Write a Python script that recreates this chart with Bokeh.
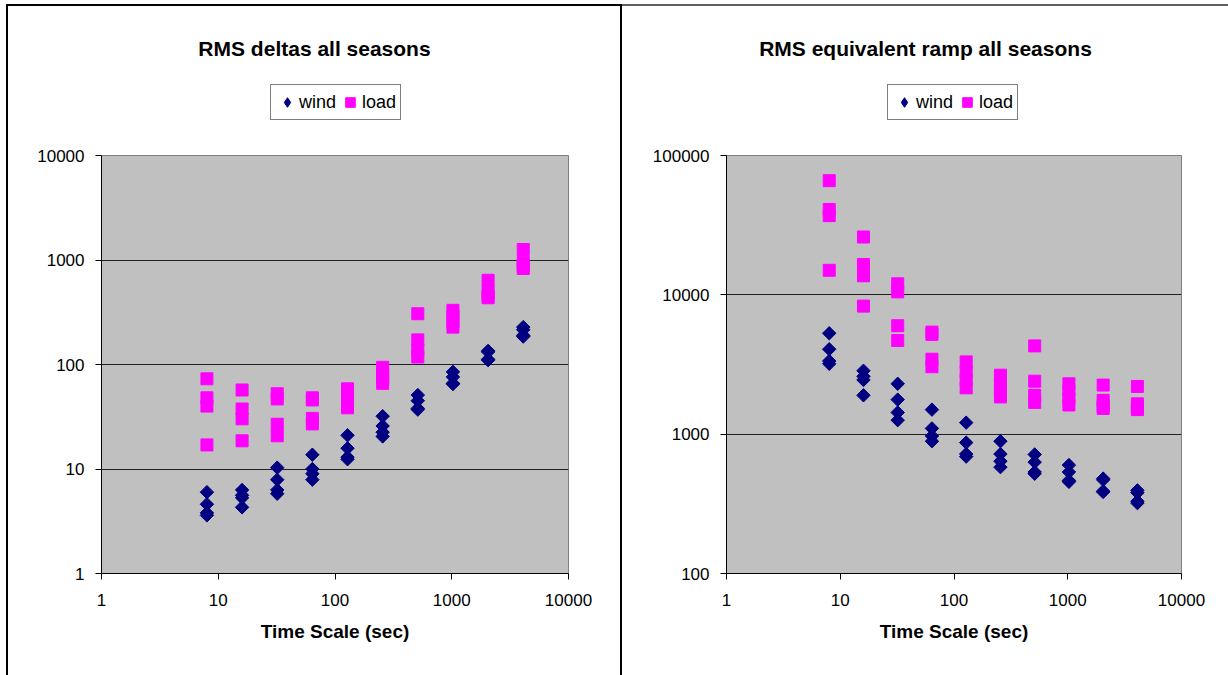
import numpy as np
from bokeh.plotting import figure
from bokeh.layouts import row, column
from bokeh.models import Range1d, FixedTicker, Legend, LegendItem, Label
from bokeh.embed import file_html
from bokeh.resources import INLINE

# ---------------- data ----------------
time_scales = [8, 16, 32, 64, 128, 256, 512, 1024, 2048, 4096]

deltas_wind = [
    [6.0, 4.6, 3.8, 3.6],
    [6.3, 5.6, 5.3, 4.3],
    [10.3, 7.9, 6.3, 5.8],
    [13.7, 10.0, 9.0, 7.9],
    [21.0, 15.8, 13.0, 12.4],
    [32.0, 25.8, 22.5, 20.5],
    [51.0, 45.0, 38.0, 37.0],
    [85.0, 76.0, 66.0, 65.0],
    [135.0, 132.0, 112.0, 110.0],
    [228.0, 215.0, 190.0, 185.0],
]
deltas_load = [
    [73.0, 48.0, 40.0, 17.0],
    [57.0, 37.5, 30.2, 18.6],
    [52.5, 46.8, 26.8, 20.8],
    [48.0, 45.8, 30.5, 27.0],
    [58.5, 49.8, 43.6, 38.5],
    [94.0, 82.0, 74.0, 66.0],
    [306.0, 172.0, 138.0, 118.0],
    [330.0, 290.0, 255.0, 228.0],
    [640.0, 500.0, 455.0, 435.0],
    [1260.0, 945.0, 880.0, 830.0],
]
ramp_wind = [
    [5300, 4070, 3350, 3200],
    [2850, 2600, 2450, 1900],
    [2300, 1770, 1430, 1260],
    [1500, 1100, 970, 890],
    [1210, 870, 720, 690],
    [890, 720, 640, 580],
    [715, 630, 535, 520],
    [600, 535, 465, 455],
    [480, 470, 390, 385],
    [395, 380, 330, 320],
]
ramp_load = [
    [66000, 41000, 37000, 15000],
    [26000, 16500, 13700, 8300],
    [12000, 10500, 6000, 4700],
    [5400, 5200, 3450, 3050],
    [3300, 2800, 2450, 2150],
    [2650, 2300, 2050, 1850],
    [4300, 2400, 1900, 1690],
    [2300, 2050, 1800, 1620],
    [2250, 1750, 1600, 1530],
    [2200, 1650, 1550, 1500],
]

x_ticks = [1, 10, 100, 1000, 10000]
x_tick_labels = ["1", "10", "100", "1000", "10000"]
y_ticks_left = [1, 10, 100, 1000, 10000]
y_tick_labels_left = ["1", "10", "100", "1000", "10000"]
y_ticks_right = [100, 1000, 10000, 100000]
y_tick_labels_right = ["100", "1000", "10000", "100000"]

titles = ["RMS deltas all seasons", "RMS equivalent ramp all seasons"]
x_label = "Time Scale (sec)"
series_names = ["wind", "load"]

FONT = "Liberation Sans"
WIND_C = "#000080"
LOAD_C = "#FF00FF"
WIND_KW = dict(marker="square", angle=np.pi / 4, size=9.5,
               fill_color=WIND_C, line_color=WIND_C)
LOAD_KW = dict(marker="square", size=12, fill_color=LOAD_C, line_color=LOAD_C)
# legend keys (legend glyphs are drawn unrotated, so use a diamond marker)
WIND_KEY = dict(marker="diamond", fill_color=WIND_C, line_color=WIND_C)
LOAD_KEY = dict(marker="square", fill_color=LOAD_C, line_color=LOAD_C)

HEADER_H = 137
CHART_H = 532
TOP_PAD = 12


def flatten(groups):
    xs, ys = [], []
    for t, vals in zip(time_scales, groups):
        for v in vals:
            xs.append(t)
            ys.append(v)
    return xs, ys


def make_header(width, frame_w, title, title_x, legend_x, wind, load):
    # header frame is aligned with the chart frame below it by the column
    h = figure(width=width, height=HEADER_H, x_range=Range1d(0, frame_w),
               y_range=Range1d(0, HEADER_H), x_axis_location=None,
               y_axis_location=None, output_backend="svg",
               toolbar_location=None, min_border=0)
    h.grid.visible = False
    h.outline_line_color = None
    h.background_fill_color = "white"
    h.border_fill_color = "white"
    h.add_layout(Label(x=title_x, y=HEADER_H + 6 - 48, text=title,
                       text_align="center", text_baseline="middle",
                       text_font=FONT, text_font_size="21px",
                       text_font_style="bold", text_color="black"))
    wx, wy = flatten(wind)
    lx, ly = flatten(load)
    # legend proxies: same data, not drawn in the header
    rw = h.scatter(wx, wy, visible=False, **WIND_KEY)
    rl = h.scatter(lx, ly, visible=False, **LOAD_KEY)
    legend = Legend(items=[LegendItem(label=series_names[0], renderers=[rw]),
                           LegendItem(label=series_names[1], renderers=[rl])],
                    location=(legend_x, HEADER_H + 6 - 120),
                    orientation="horizontal", margin=0, padding=4, spacing=2,
                    label_standoff=0, glyph_width=24, glyph_height=26,
                    label_height=24, label_text_font=FONT,
                    label_text_font_size="18px", label_text_color="black",
                    border_line_color="black", border_line_width=1,
                    background_fill_color="white", background_fill_alpha=1)
    h.add_layout(legend, "center")
    return h


def make_chart(width, fl, fr, yrange, yticks, ylabels, wind, load):
    p = figure(width=width, height=CHART_H, x_axis_type="log", y_axis_type="log",
               x_range=Range1d(1, 10000), y_range=Range1d(*yrange),
               output_backend="svg", toolbar_location=None,
               min_border_left=fl, min_border_right=fr,
               min_border_top=TOP_PAD, min_border_bottom=102)
    p.background_fill_color = "#C0C0C0"
    p.border_fill_color = "white"
    p.outline_line_color = "#808080"
    p.outline_line_width = 1

    p.xaxis.ticker = FixedTicker(ticks=x_ticks, minor_ticks=[])
    p.yaxis.ticker = FixedTicker(ticks=yticks, minor_ticks=[])
    p.xaxis.major_label_overrides = {t: l for t, l in zip(x_ticks, x_tick_labels)}
    p.yaxis.major_label_overrides = {t: l for t, l in zip(yticks, ylabels)}
    for ax in (p.xaxis[0], p.yaxis[0]):
        ax.axis_line_color = "black"
        ax.axis_line_width = 1
        ax.major_tick_line_color = "black"
        ax.major_tick_out = 6
        ax.major_tick_in = 0
        ax.minor_tick_out = 0
        ax.minor_tick_in = 0
        ax.major_label_text_font = FONT
        ax.major_label_text_font_size = "17px"
        ax.major_label_text_color = "black"
    p.xaxis.major_label_standoff = 14
    p.yaxis.major_label_standoff = 11
    p.xaxis.axis_label = x_label
    p.xaxis.axis_label_text_font = FONT
    p.xaxis.axis_label_text_font_size = "19px"
    p.xaxis.axis_label_text_font_style = "bold"
    p.xaxis.axis_label_text_color = "black"
    p.xaxis.axis_label_standoff = 12

    p.xgrid.visible = False
    p.ygrid.ticker = FixedTicker(ticks=yticks[1:-1], minor_ticks=[])
    p.ygrid.grid_line_color = "#202020"
    p.ygrid.grid_line_width = 1

    wx, wy = flatten(wind)
    lx, ly = flatten(load)
    p.scatter(wx, wy, **WIND_KW)
    p.scatter(lx, ly, **LOAD_KW)
    return p


# left panel: canvas x 8..620, frame x 101..568 (467 px)
h1 = make_header(612, 467, titles[0], 314 - 101, 270 - 101,
                 deltas_wind, deltas_load)
c1 = make_chart(612, 93, 52, (1, 10000), y_ticks_left, y_tick_labels_left,
                deltas_wind, deltas_load)
# right panel: canvas x 622..1228, frame x 726..1181 (455 px)
h2 = make_header(606, 455, titles[1], 925 - 726, 887 - 726,
                 ramp_wind, ramp_load)
c2 = make_chart(606, 104, 47, (100, 100000), y_ticks_right,
                y_tick_labels_right, ramp_wind, ramp_load)

col1 = column(h1, c1, spacing=0)
col1.margin = (4, 0, 0, 6)
col1.styles = {"border-left": "2px solid black", "border-top": "2px solid black",
               "border-right": "2px solid black"}
col2 = column(h2, c2, spacing=0)
col2.margin = (4, 0, 0, 0)
col2.styles = {"border-top": "2px solid #606060"}

layout = row(col1, col2, spacing=0)
open("out.html", "w").write(file_html(layout, INLINE))
